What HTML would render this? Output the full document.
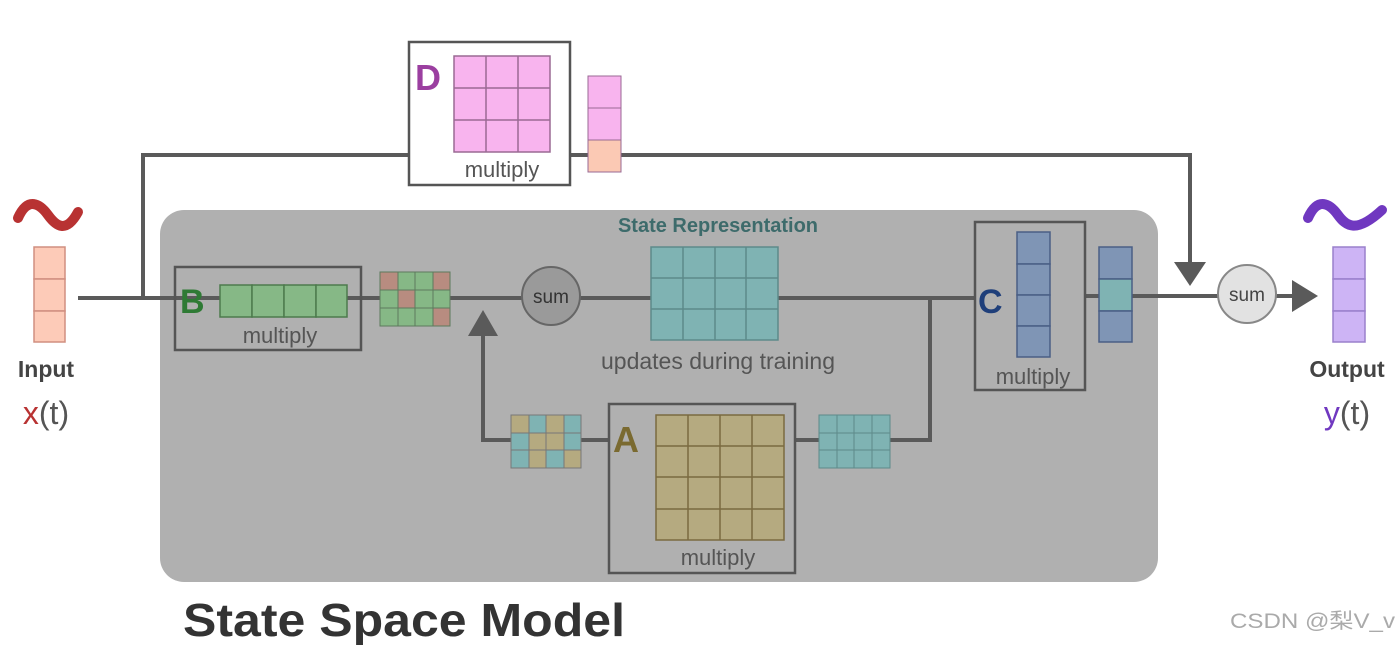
<!DOCTYPE html><html><head><meta charset="utf-8"><style>body{margin:0;background:#fff}svg{display:block}text{font-family:"Liberation Sans","Noto Sans CJK SC",sans-serif}</style></head><body>
<svg width="1400" height="645" viewBox="0 0 1400 645">
<rect x="160" y="210" width="998" height="372" rx="24" fill="#b0b0b0"/>
<g stroke="#5a5a5a" stroke-width="4" fill="none">
<polyline points="143,298 143,155 1190,155 1190,262"/>
<line x1="78" y1="298" x2="975" y2="298"/>
<line x1="1085" y1="296" x2="1295" y2="296"/>
<polyline points="930,298 930,440 890,440"/>
<line x1="795" y1="440" x2="819" y2="440"/>
<line x1="581" y1="440" x2="609" y2="440"/>
<polyline points="511,440 483,440 483,335"/>
</g>
<polygon points="1174,262 1206,262 1190,286" fill="#5a5a5a"/>
<polygon points="468,336 498,336 483,310" fill="#5a5a5a"/>
<polygon points="1292,280 1292,312 1318,296" fill="#5a5a5a"/>
<rect x="409" y="42" width="161" height="143" fill="#fff" stroke="#555" stroke-width="2.5"/>
<text x="415" y="90" font-size="36" font-weight="bold" fill="#9b3fa0">D</text>
<g fill="#f8b4ee" stroke="#9a6a94" stroke-width="1.5"><rect x="454" y="56" width="96" height="96"/></g>
<g stroke="#9a6a94" stroke-width="1.5"><line x1="486" y1="56" x2="486" y2="152"/><line x1="518" y1="56" x2="518" y2="152"/><line x1="454" y1="88" x2="550" y2="88"/><line x1="454" y1="120" x2="550" y2="120"/></g>
<text x="502" y="177" font-size="22" fill="#555" text-anchor="middle">multiply</text>
<rect x="588" y="76" width="33" height="32" fill="#f8b4ee" stroke="#9a6a94"/><rect x="588" y="108" width="33" height="32" fill="#f8b4ee" stroke="#9a6a94"/><rect x="588" y="140" width="33" height="32" fill="#fbc9b4" stroke="#9a6a94"/>
<path d="M18,218 C28,196 40,204 48,215 C56,226 66,234 78,212" stroke="#b83232" stroke-width="10" fill="none" stroke-linecap="round"/>
<g fill="#fdcbb8" stroke="#d08f80" stroke-width="1.5"><rect x="34" y="247" width="31" height="32"/><rect x="34" y="279" width="31" height="32"/><rect x="34" y="311" width="31" height="31"/></g>
<text x="46" y="377" font-size="23" font-weight="bold" fill="#444" text-anchor="middle">Input</text>
<text x="46" y="424" font-size="32" fill="#555" text-anchor="middle"><tspan fill="#b83232">x</tspan>(t)</text>
<rect x="175" y="267" width="186" height="83" fill="none" stroke="#555" stroke-width="2.5"/>
<text x="180" y="313" font-size="34" font-weight="bold" fill="#2e7a34">B</text>
<g fill="#86b886" stroke="#4d7a4d" stroke-width="1.5"><rect x="220" y="285" width="32" height="32"/><rect x="252" y="285" width="32" height="32"/><rect x="284" y="285" width="32" height="32"/><rect x="316" y="285" width="31" height="32"/></g>
<text x="280" y="343" font-size="22" fill="#555" text-anchor="middle">multiply</text>
<g stroke="#5d7a5d" stroke-width="1">
<rect x="380" y="272" width="18" height="18" fill="#b88c80"/><rect x="398" y="272" width="17" height="18" fill="#86b886"/><rect x="415" y="272" width="18" height="18" fill="#86b886"/><rect x="433" y="272" width="17" height="18" fill="#b88c80"/>
<rect x="380" y="290" width="18" height="18" fill="#86b886"/><rect x="398" y="290" width="17" height="18" fill="#b88c80"/><rect x="415" y="290" width="18" height="18" fill="#86b886"/><rect x="433" y="290" width="17" height="18" fill="#86b886"/>
<rect x="380" y="308" width="18" height="18" fill="#86b886"/><rect x="398" y="308" width="17" height="18" fill="#86b886"/><rect x="415" y="308" width="18" height="18" fill="#86b886"/><rect x="433" y="308" width="17" height="18" fill="#b88c80"/>
</g>
<circle cx="551" cy="296" r="29" fill="#9a9a9a" stroke="#666" stroke-width="2"/>
<text x="551" y="303" font-size="19" fill="#333" text-anchor="middle">sum</text>
<text x="718" y="232" font-size="20" font-weight="bold" fill="#3d6b6b" text-anchor="middle">State Representation</text>
<rect x="651" y="247" width="127" height="93" fill="#7fb3b3" stroke="#5d8a8a" stroke-width="1.5"/>
<g stroke="#5d8a8a" stroke-width="1.5"><line x1="683" y1="247" x2="683" y2="340"/><line x1="715" y1="247" x2="715" y2="340"/><line x1="746" y1="247" x2="746" y2="340"/><line x1="651" y1="278" x2="778" y2="278"/><line x1="651" y1="309" x2="778" y2="309"/></g>
<text x="718" y="369" font-size="23" fill="#555" text-anchor="middle">updates during training</text>
<rect x="975" y="222" width="110" height="168" fill="#b0b0b0" stroke="#555" stroke-width="2.5"/>
<text x="978" y="313" font-size="34" font-weight="bold" fill="#1f3f7a">C</text>
<g fill="#7f95b5" stroke="#4a5f85" stroke-width="1.5"><rect x="1017" y="232" width="33" height="32"/><rect x="1017" y="264" width="33" height="31"/><rect x="1017" y="295" width="33" height="31"/><rect x="1017" y="326" width="33" height="31"/></g>
<text x="1033" y="384" font-size="22" fill="#555" text-anchor="middle">multiply</text>
<g stroke="#4a5f85" stroke-width="1.5"><rect x="1099" y="247" width="33" height="32" fill="#7f95b5"/><rect x="1099" y="279" width="33" height="32" fill="#7fb3b3"/><rect x="1099" y="311" width="33" height="31" fill="#7f95b5"/></g>
<circle cx="1247" cy="294" r="29" fill="#e2e2e2" stroke="#888" stroke-width="2"/>
<text x="1247" y="301" font-size="19" fill="#444" text-anchor="middle">sum</text>
<path d="M1308,218 C1318,196 1330,204 1338,215 C1346,226 1356,234 1382,210" stroke="#7038c0" stroke-width="10" fill="none" stroke-linecap="round"/>
<g fill="#cdb4f5" stroke="#9a80cc" stroke-width="1.5"><rect x="1333" y="247" width="32" height="32"/><rect x="1333" y="279" width="32" height="32"/><rect x="1333" y="311" width="32" height="31"/></g>
<text x="1347" y="377" font-size="23" font-weight="bold" fill="#444" text-anchor="middle">Output</text>
<text x="1347" y="424" font-size="32" fill="#555" text-anchor="middle"><tspan fill="#7038c0">y</tspan>(t)</text>
<rect x="609" y="404" width="186" height="169" fill="none" stroke="#555" stroke-width="2.5"/>
<text x="613" y="452" font-size="36" font-weight="bold" fill="#7a6a30">A</text>
<rect x="656" y="415" width="128" height="125" fill="#b5aa80" stroke="#7a6a40" stroke-width="1.5"/>
<g stroke="#7a6a40" stroke-width="1.5"><line x1="688" y1="415" x2="688" y2="540"/><line x1="720" y1="415" x2="720" y2="540"/><line x1="752" y1="415" x2="752" y2="540"/><line x1="656" y1="446" x2="784" y2="446"/><line x1="656" y1="477" x2="784" y2="477"/><line x1="656" y1="509" x2="784" y2="509"/></g>
<text x="718" y="565" font-size="22" fill="#555" text-anchor="middle">multiply</text>
<g stroke="#777" stroke-width="1">
<rect x="511" y="415" width="18" height="18" fill="#b5aa80"/><rect x="529" y="415" width="17" height="18" fill="#7fb3b3"/><rect x="546" y="415" width="18" height="18" fill="#b5aa80"/><rect x="564" y="415" width="17" height="18" fill="#7fb3b3"/>
<rect x="511" y="433" width="18" height="17" fill="#7fb3b3"/><rect x="529" y="433" width="17" height="17" fill="#b5aa80"/><rect x="546" y="433" width="18" height="17" fill="#b5aa80"/><rect x="564" y="433" width="17" height="17" fill="#7fb3b3"/>
<rect x="511" y="450" width="18" height="18" fill="#7fb3b3"/><rect x="529" y="450" width="17" height="18" fill="#b5aa80"/><rect x="546" y="450" width="18" height="18" fill="#7fb3b3"/><rect x="564" y="450" width="17" height="18" fill="#b5aa80"/>
</g>
<rect x="819" y="415" width="71" height="53" fill="#7fb3b3" stroke="#5d8a8a" stroke-width="1"/>
<g stroke="#5d8a8a" stroke-width="1"><line x1="837" y1="415" x2="837" y2="468"/><line x1="854" y1="415" x2="854" y2="468"/><line x1="872" y1="415" x2="872" y2="468"/><line x1="819" y1="433" x2="890" y2="433"/><line x1="819" y1="450" x2="890" y2="450"/></g>
<text x="183" y="636" font-size="46" font-weight="bold" fill="#333" textLength="442" lengthAdjust="spacingAndGlyphs">State Space Model</text>
<text x="1230" y="628" font-size="21" fill="#aaa" textLength="165" lengthAdjust="spacingAndGlyphs">CSDN @梨V_v</text>
</svg></body></html>
